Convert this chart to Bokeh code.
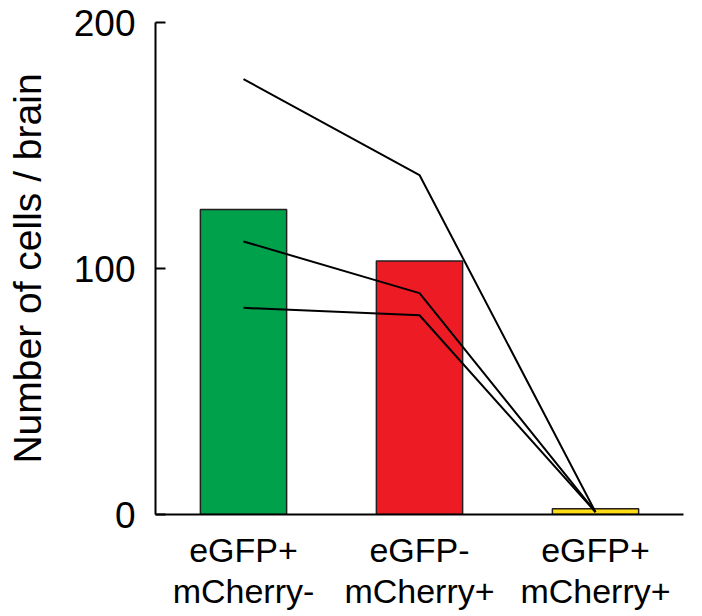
from bokeh.plotting import figure
from bokeh.models import ColumnDataSource, FactorRange, Range1d, FixedTicker
from bokeh.embed import file_html
from bokeh.resources import INLINE

categories = ["eGFP+\nmCherry-", "eGFP-\nmCherry+", "eGFP+\nmCherry+"]
mean_cells = [124, 103, 2.3]
bar_colors = ["#00A14B", "#ED1C24", "#FFDD15"]
animal_1 = [177, 138, 1]
animal_2 = [111, 90, 1]
animal_3 = [84, 81, 1]
y_ticks = [0, 100, 200]

p = figure(width=702, height=616, x_range=FactorRange(*categories, range_padding=0),
           y_range=Range1d(0, 200), output_backend="svg", toolbar_location=None,
           min_border_left=155, min_border_right=19, min_border_top=22, min_border_bottom=102)
p.x_range.factor_padding = 0
p.outline_line_color = None
p.xgrid.visible = False
p.ygrid.visible = False
p.background_fill_color = "white"

src = ColumnDataSource(dict(x=categories, top=mean_cells, color=bar_colors))
p.vbar(x="x", top="top", width=0.49, fill_color="color", line_color="#231F20",
       line_width=1.5, source=src)

for animal in (animal_1, animal_2, animal_3):
    p.line(x=categories, y=animal, line_color="#000000", line_width=2)

font = "Liberation Sans"
p.yaxis.ticker = FixedTicker(ticks=y_ticks)
p.yaxis.axis_label = "Number of cells / brain"
p.yaxis.axis_label_text_font = font
p.yaxis.axis_label_text_font_size = "39px"
p.yaxis.axis_label_text_font_style = "normal"
p.yaxis.axis_label_text_color = "#000000"
p.yaxis.axis_label_standoff = 22
p.yaxis.major_label_text_font = font
p.yaxis.major_label_text_font_size = "37px"
p.yaxis.major_label_text_color = "#000000"
p.yaxis.major_label_standoff = 20
p.yaxis.major_tick_in = 10
p.yaxis.major_tick_out = 0
p.yaxis.major_tick_line_width = 2
p.yaxis.minor_tick_line_color = None
p.yaxis.axis_line_width = 2
p.yaxis.axis_line_color = "#000000"
p.yaxis.major_tick_line_color = "#000000"

p.xaxis.major_label_text_font = font
p.xaxis.major_label_text_font_size = "34px"
p.xaxis.major_label_text_line_height = 1.1
p.xaxis.major_label_text_color = "#000000"
p.xaxis.major_label_standoff = 10
p.xaxis.major_tick_line_color = None
p.xaxis.axis_line_width = 2
p.xaxis.axis_line_color = "#000000"

open("out.html", "w").write(file_html(p, INLINE))
